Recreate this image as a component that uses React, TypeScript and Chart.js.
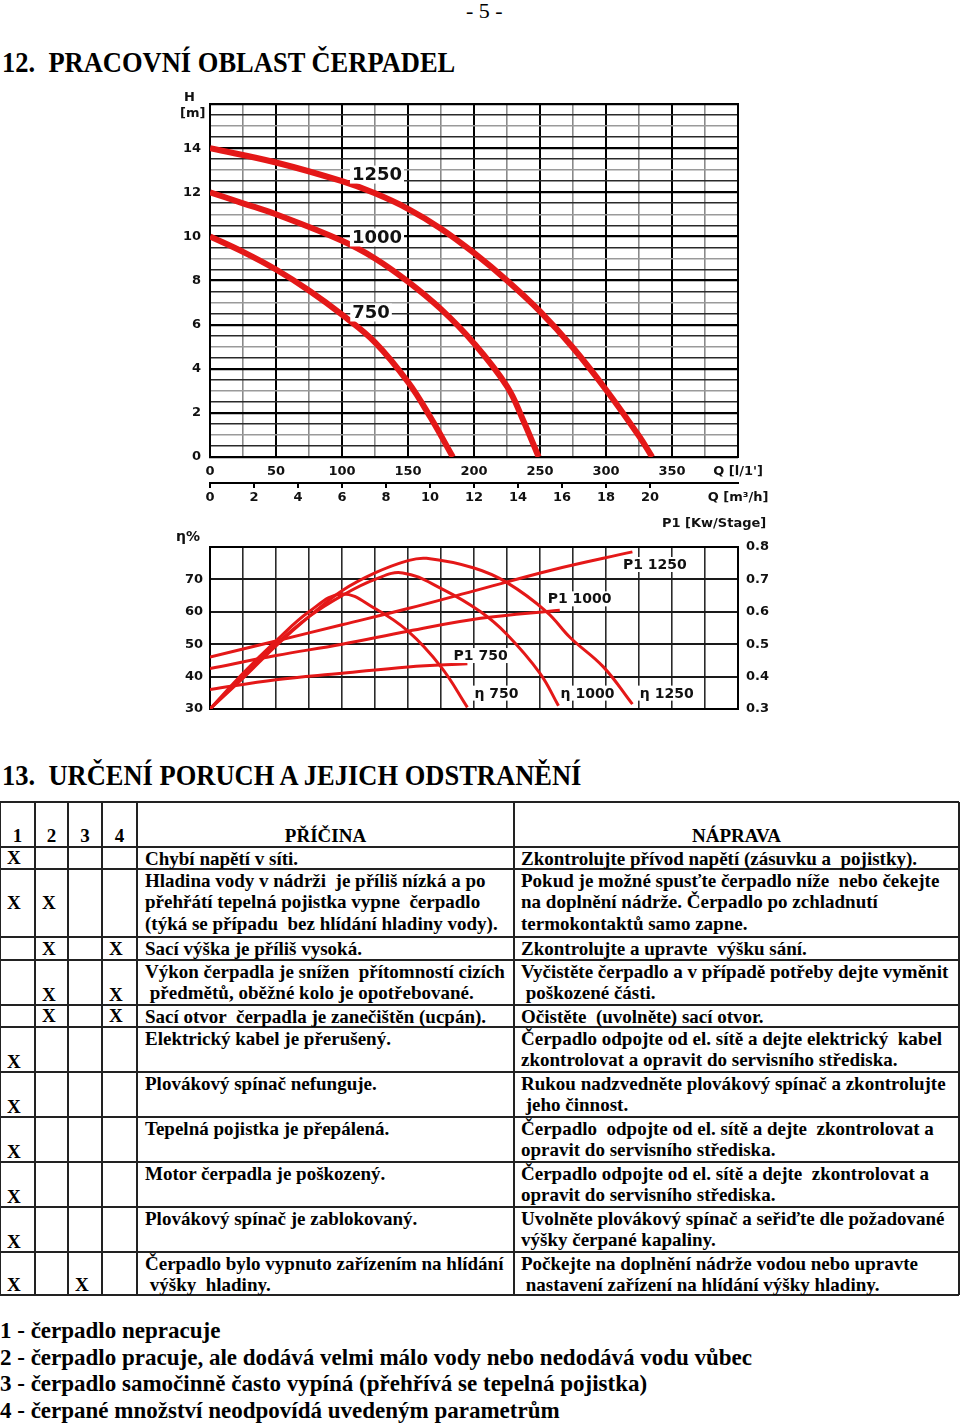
import React, { useEffect, useRef } from 'react';
import { Chart, registerables } from 'chart.js';
Chart.register(...registerables);

const RED = 'rgb(228,24,24)';
const SERIF = '"Liberation Serif", "Times New Roman", serif';
const SANS = '"DejaVu Sans", Verdana, sans-serif';

// ---- Chart 1: H [m] vs Q [l/min]
const Q750 = [0, 25, 50, 75, 100, 125, 150, 167, 184];
const H750 = [10, 9.3, 8.5, 7.55, 6.45, 5.2, 3.4, 1.8, 0];
const Q1000 = [0, 25, 50, 100, 125, 150, 175, 200, 225, 237, 249];
const H1000 = [12, 11.5, 11.0, 9.8, 9.0, 7.95, 6.7, 5.15, 3.2, 1.7, 0];
const Q1250 = [0, 50, 100, 125, 150, 175, 200, 225, 250, 275, 300, 325, 335];
const H1250 = [14, 13.35, 12.5, 11.95, 11.25, 10.35, 9.25, 8.0, 6.6, 4.95, 3.05, 0.95, 0];
const H_LABELS = ['1250', '1000', '750'];
const H_LABEL_Q = [126.5, 126.5, 122];
const H_LABEL_H = [12.8, 9.95, 6.55];

// ---- Chart 2: efficiency [%] and P1 [kW] vs Q [l/min]
const QE750 = [0, 25, 50, 75, 100, 125, 150, 175, 195];
const E750 = [30, 41, 51, 60, 65.5, 61, 54, 43, 30.5];
const QE1000 = [0, 25, 50, 75, 100, 125, 146, 176, 205, 225, 250, 264];
const E1000 = [30, 40, 50, 58.5, 65, 70, 72, 67, 60, 53, 41, 31];
const QE1250 = [0, 25, 50, 75, 100, 125, 150, 164, 200, 225, 255, 273, 298, 320];
const E1250 = [30, 39.5, 49.5, 58.5, 66.5, 72, 75.8, 76.5, 73.5, 69, 60, 52, 43, 31.5];
const QP750 = [0, 50, 100, 150, 195];
const P750 = [0.36, 0.39, 0.41, 0.43, 0.44];
const QP1000 = [0, 50, 100, 150, 205, 265];
const P1000 = [0.425, 0.465, 0.5, 0.54, 0.58, 0.605];
const QP1250 = [0, 50, 100, 150, 205, 260, 320];
const P1250 = [0.46, 0.51, 0.56, 0.61, 0.67, 0.73, 0.785];
const E_LABELS = ['P1 1250', 'P1 1000', 'P1 750', 'η 750', 'η 1000', 'η 1250'];
const E_LABEL_Q = [337, 280, 205, 217, 286, 346];
const E_LABEL_E = [74.6, 64, 46.5, 34.9, 34.9, 34.9];

// ---- Table
const CAUSES = [
  'Chybí napětí v síti.',
  'Hladina vody v nádrži  je příliš nízká a po\npřehřátí tepelná pojistka vypne  čerpadlo\n(týká se případu  bez hlídání hladiny vody).',
  'Sací výška je příliš vysoká.',
  'Výkon čerpadla je snížen  přítomností cizích\n předmětů, oběžné kolo je opotřebované.',
  'Sací otvor  čerpadla je zanečištěn (ucpán).',
  'Elektrický kabel je přerušený.',
  'Plovákový spínač nefunguje.',
  'Tepelná pojistka je přepálená.',
  'Motor čerpadla je poškozený.',
  'Plovákový spínač je zablokovaný.',
  'Čerpadlo bylo vypnuto zařízením na hlídání\n výšky  hladiny.',
];
const REMEDIES = [
  'Zkontrolujte přívod napětí (zásuvku a  pojistky).',
  'Pokud je možné spusťte čerpadlo níže  nebo čekejte\nna doplnění nádrže. Čerpadlo po zchladnutí\ntermokontaktů samo zapne.',
  'Zkontrolujte a upravte  výšku sání.',
  'Vyčistěte čerpadlo a v případě potřeby dejte vyměnit\n poškozené části.',
  'Očistěte  (uvolněte) sací otvor.',
  'Čerpadlo odpojte od el. sítě a dejte elektrický  kabel\nzkontrolovat a opravit do servisního střediska.',
  'Rukou nadzvedněte plovákový spínač a zkontrolujte\n jeho činnost.',
  'Čerpadlo  odpojte od el. sítě a dejte  zkontrolovat a\nopravit do servisního střediska.',
  'Čerpadlo odpojte od el. sítě a dejte  zkontrolovat a\nopravit do servisního střediska.',
  'Uvolněte plovákový spínač a seřiďte dle požadované\nvýšky čerpané kapaliny.',
  'Počkejte na doplnění nádrže vodou nebo upravte\n nastavení zařízení na hlídání výšky hladiny.',
];
const MARKS = [[1], [1, 2], [2, 4], [2, 4], [2, 4], [1], [1], [1], [1], [1], [1, 3]];
const LEGEND = [
  '1 - čerpadlo nepracuje',
  '2 - čerpadlo pracuje, ale dodává velmi málo vody nebo nedodává vodu vůbec',
  '3 - čerpadlo samočinně často vypíná (přehřívá se tepelná pojistka)',
  '4 - čerpané množství neodpovídá uvedeným parametrům',
];

const ROW_TOPS = [802, 847, 869, 937, 960, 1005, 1027, 1072, 1117, 1162, 1207, 1252, 1295];
const MARK_VALIGN = ['middle', 'middle', 'middle', 'bottom', 'middle', 'bottom', 'bottom', 'bottom', 'bottom', 'bottom', 'bottom'];
const COL_W = [35, 33, 34, 35, 377, 445];

const pts = (xs: number[], ys: number[]) => xs.map((x, i) => ({ x, y: ys[i] }));

const framePlugin = {
  id: 'frame',
  beforeDatasetsDraw(chart: any) {
    const { ctx, chartArea: a } = chart;
    ctx.save();
    ctx.strokeStyle = '#000';
    ctx.lineWidth = 2;
    ctx.strokeRect(a.left, a.top, a.right - a.left, a.bottom - a.top);
    ctx.restore();
  },
};

const labelPlugin = {
  id: 'curveLabels',
  afterDatasetsDraw(chart: any, _args: any, opts: any) {
    const { ctx } = chart;
    const xs = chart.scales.x;
    const ys = chart.scales[opts.yAxis];
    ctx.save();
    ctx.font = opts.font;
    ctx.textAlign = 'center';
    ctx.textBaseline = 'middle';
    opts.texts.forEach((t: string, i: number) => {
      const x = xs.getPixelForValue(opts.xs[i]);
      const y = ys.getPixelForValue(opts.ys[i]);
      const w = ctx.measureText(t).width;
      ctx.fillStyle = '#fff';
      ctx.fillRect(x - w / 2 - 2, y - opts.h / 2, w + 4, opts.h);
      ctx.fillStyle = '#111';
      ctx.fillText(t, x, y + 1);
    });
    ctx.restore();
  },
};

function useChart(ref: React.RefObject<HTMLCanvasElement>, make: () => any) {
  useEffect(() => {
    if (!ref.current) return;
    const chart = new Chart(ref.current, make());
    return () => chart.destroy();
  }, []);
}

const tickFont = { family: SANS, size: 13, weight: 'bold' as const };

function HeadChart() {
  const ref = useRef<HTMLCanvasElement>(null);
  useChart(ref, () => ({
    type: 'line',
    data: {
      datasets: [
        { data: pts(Q1250, H1250) },
        { data: pts(Q1000, H1000) },
        { data: pts(Q750, H750) },
      ].map((d) => ({
        ...d,
        borderColor: RED,
        borderWidth: 6,
        pointRadius: 0,
        tension: 0.4,
        fill: false,
      })),
    },
    options: {
      responsive: false,
      animation: false,
      devicePixelRatio: 1,
      layout: { padding: { top: 19, right: 42, left: 0, bottom: 0 }, autoPadding: false },
      plugins: {
        legend: { display: false },
        tooltip: { enabled: false },
        curveLabels: {
          texts: H_LABELS,
          xs: H_LABEL_Q,
          ys: H_LABEL_H,
          yAxis: 'y',
          font: `bold 18px ${SANS}`,
          h: 18,
        },
      },
      scales: {
        x: {
          type: 'linear',
          position: 'bottom',
          min: 0,
          max: 400,
          afterBuildTicks: (s: any) => {
            s.ticks = [];
            for (let v = 0; v <= 400; v += 25) s.ticks.push({ value: v });
          },
          afterFit: (s: any) => {
            s.height = 26;
            s.paddingLeft = 0;
            s.paddingRight = 0;
          },
          ticks: {
            autoSkip: false,
            maxRotation: 0,
            padding: 7,
            color: '#111',
            font: tickFont,
            callback: (v: number) => (v === 400 ? "Q [l/1']" : v % 50 === 0 ? String(v) : ''),
          },
          grid: {
            drawTicks: false,
            color: (c: any) => (c.tick && c.tick.value % 50 === 0 ? '#000' : '#8a8a8a'),
            lineWidth: (c: any) => (c.tick && c.tick.value % 50 === 0 ? 2 : 1.6),
          },
          border: { display: true, color: '#000', width: 2 },
        },
        x2: {
          type: 'linear',
          position: 'bottom',
          min: 0,
          max: 24,
          afterBuildTicks: (s: any) => {
            s.ticks = [];
            for (let v = 0; v <= 24; v += 2) s.ticks.push({ value: v });
          },
          afterFit: (s: any) => {
            s.height = 32;
            s.paddingLeft = 0;
            s.paddingRight = 0;
          },
          ticks: {
            autoSkip: false,
            maxRotation: 0,
            padding: 2,
            color: '#111',
            font: tickFont,
            callback: (v: number) => (v === 24 ? 'Q [m³/h]' : v === 22 ? '' : String(v)),
          },
          grid: {
            drawOnChartArea: false,
            drawTicks: true,
            tickLength: 5,
            color: (c: any) => (c.tick && c.tick.value > 20 ? 'rgba(0,0,0,0)' : '#000'),
            lineWidth: 2,
          },
          border: { display: true, color: '#000', width: 2 },
        },
        y: {
          type: 'linear',
          min: 0,
          max: 16,
          afterBuildTicks: (s: any) => {
            s.ticks = [];
            for (let v = 0; v <= 16; v += 0.5) s.ticks.push({ value: v });
          },
          afterFit: (s: any) => {
            s.width = 40;
            s.paddingTop = 0;
            s.paddingBottom = 0;
          },
          ticks: {
            autoSkip: false,
            padding: 9,
            color: '#111',
            font: tickFont,
            callback: (v: number) => (v % 2 === 0 && v < 16 ? String(v) : ''),
          },
          grid: {
            drawTicks: false,
            color: (c: any) => {
              const v = c.tick ? c.tick.value : 0;
              if (v % 2 === 0) return '#000';
              if (v % 1 === 0) return '#9a9a9a';
              return '#2a2a2a';
            },
            lineWidth: (c: any) => {
              const v = c.tick ? c.tick.value : 0;
              return v % 2 === 0 ? 2.2 : 1.6;
            },
          },
          border: { display: true, color: '#000', width: 2 },
        },
      },
    },
    plugins: [framePlugin, labelPlugin],
  }));
  return <canvas ref={ref} width={610} height={430} style={{ position: 'absolute', left: 170, top: 85 }} />;
}

function EffChart() {
  const ref = useRef<HTMLCanvasElement>(null);
  useChart(ref, () => ({
    type: 'line',
    data: {
      datasets: [
        { data: pts(QP1250, P1250), yAxisID: 'y2' },
        { data: pts(QP1000, P1000), yAxisID: 'y2' },
        { data: pts(QP750, P750), yAxisID: 'y2' },
        { data: pts(QE750, E750), yAxisID: 'y' },
        { data: pts(QE1000, E1000), yAxisID: 'y' },
        { data: pts(QE1250, E1250), yAxisID: 'y' },
      ].map((d) => ({
        ...d,
        borderColor: RED,
        borderWidth: 3,
        pointRadius: 0,
        tension: 0.4,
        fill: false,
      })),
    },
    options: {
      responsive: false,
      animation: false,
      devicePixelRatio: 1,
      layout: { padding: { top: 32, right: 0, left: 0, bottom: 0 }, autoPadding: false },
      plugins: {
        legend: { display: false },
        tooltip: { enabled: false },
        curveLabels: {
          texts: E_LABELS,
          xs: E_LABEL_Q,
          ys: E_LABEL_E,
          yAxis: 'y',
          font: `bold 14px ${SANS}`,
          h: 15,
        },
      },
      scales: {
        x: {
          type: 'linear',
          min: 0,
          max: 400,
          afterBuildTicks: (s: any) => {
            s.ticks = [];
            for (let v = 0; v <= 400; v += 25) s.ticks.push({ value: v });
          },
          afterFit: (s: any) => {
            s.height = 16;
            s.paddingLeft = 0;
            s.paddingRight = 0;
          },
          ticks: { display: false },
          grid: { drawTicks: false, color: '#2a2a2a', lineWidth: 1.6 },
          border: { display: true, color: '#000', width: 2 },
        },
        y: {
          type: 'linear',
          position: 'left',
          min: 30,
          max: 80,
          afterBuildTicks: (s: any) => {
            s.ticks = [];
            for (let v = 30; v <= 80; v += 10) s.ticks.push({ value: v });
          },
          afterFit: (s: any) => {
            s.width = 40;
            s.paddingTop = 0;
            s.paddingBottom = 0;
          },
          ticks: {
            padding: 7,
            color: '#111',
            font: tickFont,
            callback: (v: number) => (v < 80 ? String(v) : ''),
          },
          grid: { drawTicks: false, color: '#1a1a1a', lineWidth: 2 },
          border: { display: true, color: '#000', width: 2 },
        },
        y2: {
          type: 'linear',
          position: 'right',
          min: 0.3,
          max: 0.8,
          afterBuildTicks: (s: any) => {
            s.ticks = [];
            for (let i = 3; i <= 8; i++) s.ticks.push({ value: i / 10 });
          },
          afterFit: (s: any) => {
            s.width = 42;
            s.paddingTop = 0;
            s.paddingBottom = 0;
          },
          ticks: {
            padding: 8,
            color: '#111',
            font: tickFont,
            callback: (v: number) => v.toFixed(1),
          },
          grid: { drawOnChartArea: false, drawTicks: false },
          border: { display: true, color: '#000', width: 2 },
        },
      },
    },
    plugins: [framePlugin, labelPlugin],
  }));
  return <canvas ref={ref} width={610} height={210} style={{ position: 'absolute', left: 170, top: 515 }} />;
}

const abs = (left: number, top: number, extra: React.CSSProperties = {}): React.CSSProperties => ({
  position: 'absolute',
  left,
  top,
  whiteSpace: 'pre',
  ...extra,
});

const axisText: React.CSSProperties = { fontFamily: SANS, fontWeight: 'bold', fontSize: 13, color: '#111', lineHeight: '14px' };
const headText: React.CSSProperties = {
  fontFamily: SERIF,
  fontWeight: 'bold',
  fontSize: 26.5,
  color: '#000',
  lineHeight: '30px',
  transform: 'scale(1, 1.1)',
  transformOrigin: 'left center',
};

const cellText: React.CSSProperties = {
  fontFamily: SERIF,
  fontWeight: 'bold',
  fontSize: 19,
  lineHeight: '21.5px',
  color: '#000',
  whiteSpace: 'pre',
};

const LINE = '#222';

export default function App() {
  useEffect(() => {
    document.body.style.margin = '0';
  }, []);
  const colLeft = COL_W.map((_, i) => COL_W.slice(0, i).reduce((a, b) => a + b, 0));
  const tableW = COL_W.reduce((a, b) => a + b, 0);
  const cells: React.ReactNode[] = [];
  const hTop = ROW_TOPS[0];
  const hH = ROW_TOPS[1] - ROW_TOPS[0];
  const headers = ['1', '2', '3', '4', 'PŘÍČINA', 'NÁPRAVA'];
  headers.forEach((t, c) => {
    cells.push(
      <div
        key={'h' + c}
        style={{
          position: 'absolute',
          left: colLeft[c],
          top: hTop,
          width: COL_W[c],
          height: hH,
          display: 'flex',
          alignItems: 'flex-end',
          justifyContent: 'center',
          paddingBottom: 1,
          boxSizing: 'border-box',
          ...cellText,
        }}
      >
        {t}
      </div>,
    );
  });
  CAUSES.forEach((cause, r) => {
    const top = ROW_TOPS[r + 1];
    const h = ROW_TOPS[r + 2] - top;
    [1, 2, 3, 4].forEach((col) => {
      if (!MARKS[r].includes(col)) return;
      const va = MARK_VALIGN[r];
      cells.push(
        <div
          key={`m${r}-${col}`}
          style={{
            position: 'absolute',
            left: colLeft[col - 1] + 7,
            top,
            height: h,
            display: 'flex',
            alignItems: va === 'bottom' ? 'flex-end' : 'center',
            ...cellText,
          }}
        >
          X
        </div>,
      );
    });
    cells.push(
      <div key={`c${r}`} style={{ position: 'absolute', left: colLeft[4] + 8, top: top + 0.5, ...cellText }}>
        {cause}
      </div>,
    );
    cells.push(
      <div key={`r${r}`} style={{ position: 'absolute', left: colLeft[5] + 7, top: top + 0.5, ...cellText }}>
        {REMEDIES[r]}
      </div>,
    );
  });
  const hLines = ROW_TOPS.map((y, i) => (
    <div key={'hl' + i} style={{ position: 'absolute', left: 0, top: y - 0.75, width: tableW, height: 1.5, background: LINE }} />
  ));
  const vLines = [...colLeft, tableW].map((x, i) => (
    <div
      key={'vl' + i}
      style={{
        position: 'absolute',
        left: x - 0.75,
        top: ROW_TOPS[0],
        width: 1.5,
        height: ROW_TOPS[ROW_TOPS.length - 1] - ROW_TOPS[0],
        background: LINE,
      }}
    />
  ));

  return (
    <div style={{ position: 'absolute', left: 0, top: 0, width: 960, height: 1424, background: '#fff', overflow: 'hidden' }}>
      <div style={abs(466, 0, { fontFamily: SERIF, fontSize: 22, lineHeight: '22px' })}>- 5 -</div>
      <div style={abs(2, 47, headText)}>12.  PRACOVNÍ OBLAST ČERPADEL</div>

      <HeadChart />
      <div style={abs(184, 90, axisText)}>H</div>
      <div style={abs(180, 106, axisText)}>[m]</div>

      <EffChart />
      <div style={abs(176, 529, { ...axisText, fontSize: 14 })}>η%</div>
      <div style={abs(662, 516, axisText)}>P1 [Kw/Stage]</div>

      <div style={abs(2, 760, headText)}>13.  URČENÍ PORUCH A JEJICH ODSTRANĚNÍ</div>

      <div style={{ position: 'absolute', left: 0, top: 0 }}>
        {hLines}
        {vLines}
        {cells}
      </div>

      {LEGEND.map((t, i) => (
        <div
          key={i}
          style={abs(0, 1318 + i * 26.5, {
            fontFamily: SERIF,
            fontWeight: 'bold',
            fontSize: 23,
            lineHeight: '26px',
          })}
        >
          {t}
        </div>
      ))}
    </div>
  );
}
